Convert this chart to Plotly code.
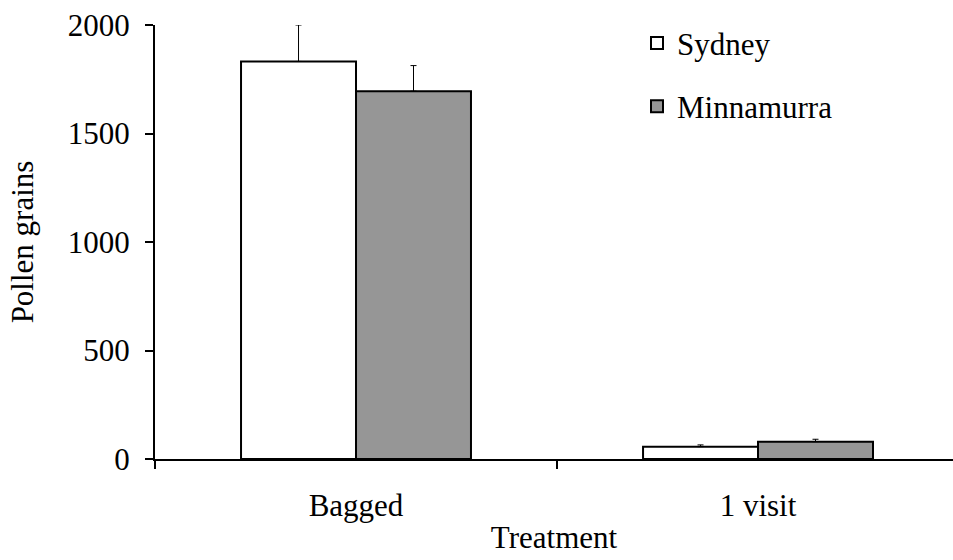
import plotly.graph_objects as go

# Pollen grain counts per treatment and population (mean and upper error)
treatments = ["Bagged", "1 visit"]
sydney_mean = [1832, 57]
sydney_err = [168, 8]
minnamurra_mean = [1695, 80]
minnamurra_err = [118, 11]

y_ticks = [0, 500, 1000, 1500, 2000]

FONT = "Liberation Serif"
FS = 31

fig = go.Figure()

fig.add_trace(go.Bar(
    name="Sydney",
    x=treatments,
    y=sydney_mean,
    marker=dict(color="white", line=dict(color="black", width=2)),
    error_y=dict(type="data", array=sydney_err, symmetric=False,
                 arrayminus=[0, 0], color="black", thickness=1, width=3),
    legendgroup="a",
))
fig.add_trace(go.Bar(
    name="Minnamurra",
    x=treatments,
    y=minnamurra_mean,
    marker=dict(color="#969696", line=dict(color="black", width=2)),
    error_y=dict(type="data", array=minnamurra_err, symmetric=False,
                 arrayminus=[0, 0], color="black", thickness=1, width=3),
    legendgroup="b",
))

fig.update_layout(
    width=953,
    height=560,
    margin=dict(l=155, r=0, t=25, b=101),
    plot_bgcolor="white",
    paper_bgcolor="white",
    barmode="group",
    bargap=0.428,
    bargroupgap=0,
    font=dict(family=FONT, size=FS, color="black"),
    legend=dict(
        x=0.604, y=1.02, xanchor="left", yanchor="top",
        traceorder="grouped", tracegroupgap=20,
        bgcolor="rgba(0,0,0,0)",
        font=dict(family=FONT, size=FS, color="black"),
    ),
    xaxis=dict(
        type="category",
        range=[-0.5, 1.485],
        showline=True, linecolor="black", linewidth=2,
        ticks="outside", tickson="boundaries", ticklen=8,
        tickwidth=2, tickcolor="black",
        ticklabelstandoff=18,
        showgrid=False, zeroline=False,
        title=dict(text="Treatment", standoff=4,
                   font=dict(family=FONT, size=FS)),
        tickfont=dict(family=FONT, size=FS),
    ),
    yaxis=dict(
        range=[0, 2000],
        tickvals=y_ticks,
        showline=True, linecolor="black", linewidth=2,
        ticks="outside", ticklen=8, tickwidth=2, tickcolor="black",
        ticklabelstandoff=9,
        showgrid=False, zeroline=False,
        title=dict(text="Pollen grains", standoff=25,
                   font=dict(family=FONT, size=FS)),
        tickfont=dict(family=FONT, size=FS),
    ),
)

fig.write_html("out.html")
